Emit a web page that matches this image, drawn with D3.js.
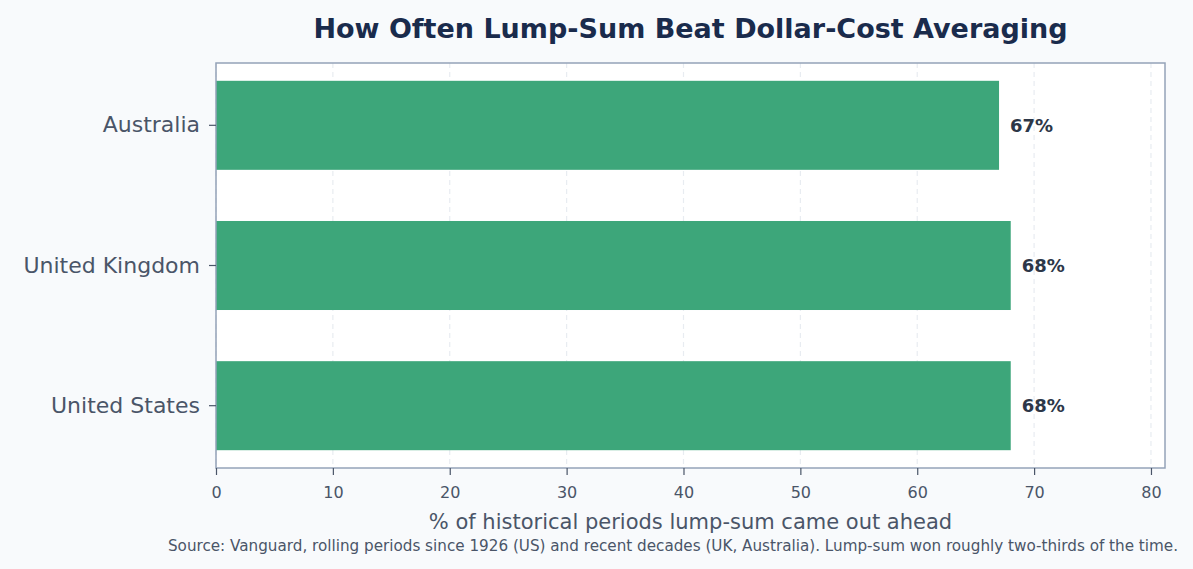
<!DOCTYPE html>
<html>
<head>
<meta charset="utf-8">
<script src="https://cdn.jsdelivr.net/npm/d3@7"></script>
<style>
  body { margin: 0; background: #f8fafc; }
  text { font-family: "DejaVu Sans", "Noto Sans", sans-serif; }
</style>
</head>
<body>
<div id="chart"></div>
<script>
"use strict";

// data
var countries = ["Australia", "United Kingdom", "United States"];
var winRates = [67, 68, 68];
var xTicks = [0, 10, 20, 30, 40, 50, 60, 70, 80];

function barChart() {
    var w = 1193;
    var h = 569;
    var m = {top: 63, right: 28, bottom: 101, left: 216};

    var svg = d3.select("#chart")
                .append("svg")
                .attr("width", w)
                .attr("height", h);

    svg.append("rect")
        .attr("width", w)
        .attr("height", h)
        .attr("fill", "#f8fafc");

    var x = d3.scaleLinear()
              .domain([0, 81.2])
              .range([m.left, w - m.right]);

    var y = d3.scaleBand()
              .domain(countries)
              .range([m.top, h - m.bottom])
              .paddingInner(0.365)
              .paddingOuter(0.127);

    // plot background
    svg.append("rect")
        .attr("x", m.left)
        .attr("y", m.top)
        .attr("width", w - m.right - m.left)
        .attr("height", h - m.bottom - m.top)
        .attr("fill", "#ffffff");

    // dashed vertical grid
    svg.selectAll("line.grid")
        .data(xTicks)
        .enter()
        .append("line")
        .attr("class", "grid")
        .attr("x1", function(d){ return x(d); })
        .attr("x2", function(d){ return x(d); })
        .attr("y1", m.top)
        .attr("y2", h - m.bottom)
        .attr("stroke", "#e8ecf1")
        .attr("stroke-width", 1.2)
        .attr("stroke-dasharray", "5,4");

    var data = countries.map(function(c, i){ return {country: c, value: winRates[i]}; });

    svg.selectAll("rect.bar")
        .data(data)
        .enter()
        .append("rect")
        .attr("class", "bar")
        .attr("x", x(0))
        .attr("y", function(d){ return y(d.country); })
        .attr("width", function(d){ return x(d.value) - x(0); })
        .attr("height", y.bandwidth())
        .attr("fill", "#3da67a");

    svg.selectAll("text.val")
        .data(data)
        .enter()
        .append("text")
        .attr("class", "val")
        .attr("x", function(d){ return x(d.value) + 11; })
        .attr("y", function(d){ return y(d.country) + y.bandwidth() / 2; })
        .attr("dy", "0.36em")
        .attr("font-size", 18)
        .attr("font-weight", "bold")
        .attr("fill", "#2d3748")
        .text(function(d){ return d.value + "%"; });

    // frame
    svg.append("rect")
        .attr("x", m.left)
        .attr("y", m.top)
        .attr("width", w - m.right - m.left)
        .attr("height", h - m.bottom - m.top)
        .attr("fill", "none")
        .attr("stroke", "#94a3b8")
        .attr("stroke-width", 1.5);

    var xAxis = svg.append("g")
        .attr("transform", "translate(0," + (h - m.bottom) + ")")
        .call(d3.axisBottom(x).tickValues(xTicks).tickSize(7).tickPadding(12));
    xAxis.select(".domain").remove();
    xAxis.selectAll("line").attr("stroke", "#4a5568").attr("stroke-width", 1.2);
    xAxis.selectAll("text").attr("font-size", 16).attr("fill", "#4a5568");

    var yAxis = svg.append("g")
        .attr("transform", "translate(" + m.left + ",0)")
        .call(d3.axisLeft(y).tickSize(7).tickPadding(9));
    yAxis.select(".domain").remove();
    yAxis.selectAll("line").attr("stroke", "#4a5568").attr("stroke-width", 1.2);
    yAxis.selectAll("text").attr("font-size", 22).attr("fill", "#4a5568");

    svg.append("text")
        .attr("x", (m.left + w - m.right) / 2)
        .attr("y", 38)
        .attr("text-anchor", "middle")
        .attr("font-size", 27)
        .attr("font-weight", "bold")
        .attr("fill", "#1a2b4c")
        .text("How Often Lump-Sum Beat Dollar-Cost Averaging");

    svg.append("text")
        .attr("x", (m.left + w - m.right) / 2)
        .attr("y", 529)
        .attr("text-anchor", "middle")
        .attr("font-size", 21)
        .attr("fill", "#4a5568")
        .text("% of historical periods lump-sum came out ahead");

    svg.append("text")
        .attr("x", 1178)
        .attr("y", 551)
        .attr("text-anchor", "end")
        .attr("font-size", 15.2)
        .attr("fill", "#4a5568")
        .text("Source: Vanguard, rolling periods since 1926 (US) and recent decades (UK, Australia). Lump-sum won roughly two-thirds of the time.");
}

window.onload = barChart;
</script>
</body>
</html>
